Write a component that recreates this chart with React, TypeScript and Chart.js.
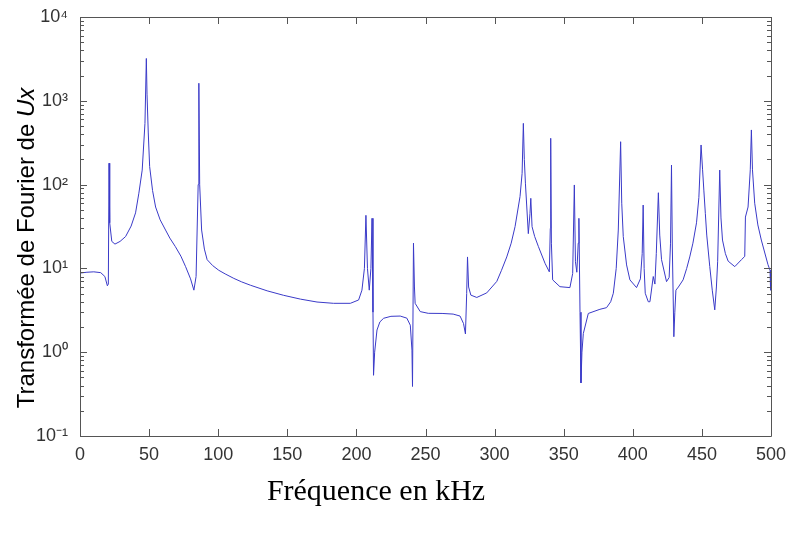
import React, { useEffect, useRef } from "react";
import { Chart, registerables } from "chart.js";

Chart.register(...registerables);

// Frequency (kHz) and Fourier transform magnitude of Ux
const freqKHz = [
  0, 5, 10, 15, 18, 19.8, 20.5, 21.0, 21.5, 23, 25.3, 29, 33, 37, 40.2, 42.6, 45, 47, 48, 48.5, 49.4, 50.4, 52.5,
  54.7, 58, 61.9, 65, 69, 73, 76.4, 80, 82.4, 84, 85.5, 86, 86.6, 88, 90, 92, 96, 100.4, 105, 111.3, 117, 123.3,
  135.4, 147.4, 159.5, 171.5, 183.5, 195.6, 201.6, 204, 205.8, 206.9, 208, 209.3, 210.5, 211.3, 212.0, 212.4,
  213.2, 214.9, 217, 219.7, 225, 231.7, 236.5, 239, 240.2, 240.6, 241.3, 242.0, 242.5, 246.2, 252, 262, 270, 275,
  277.5, 278.9, 279.8, 280.4, 281.2, 282.8, 287.1, 294.3, 301.6, 305, 308.8, 312, 314.8, 318.4, 319.9, 320.8,
  321.5, 322.3, 324.4, 325.6, 326.2, 327.1, 329, 331.7, 336.5, 339.6, 340.3, 340.6, 341.1, 342, 347.3, 354.5,
  356.5, 357.7, 358.5, 359.5, 360.5, 361.0, 361.8, 362.5, 363.2, 364.2, 367.8, 376.2, 381, 384, 385.9, 388, 389.5,
  391.2, 392, 393.1, 395.5, 397.9, 402.7, 405.5, 406.8, 407.5, 408.2, 409, 411.2, 412.4, 414.8, 416, 417, 418.5,
  419.5, 420.8, 424.4, 426.3, 427.3, 428, 428.6, 429.7, 430.4, 431.2, 433, 436.4, 439, 441.2, 443.5, 446.1, 447.8,
  449.4, 450.5, 451.4, 452.5, 453.5, 455.7, 457.5, 459.3, 460.5, 461.4, 462.9, 463.8, 464.9, 467, 469, 473.8,
  478.6, 481, 481.5, 483.4, 485, 485.8, 486.6, 488.2, 490.5, 493, 497.8, 499.3, 499.7, 500,
];
const amplitude = [
  8.8, 9.0, 9.1, 8.9, 8.0, 6.2, 6.5, 180, 35, 21, 19.5, 21, 24, 32, 46, 79, 149, 538, 3200, 1200, 413, 164, 85,
  54, 38, 28.7, 23, 18.2, 14, 10.5, 7.5, 5.5, 8, 100, 1620, 100, 28.7, 17, 12.7, 10.8, 9.5, 8.6, 7.6, 6.9, 6.3,
  5.4, 4.77, 4.3, 3.97, 3.83, 3.83, 4.2, 5.5, 10, 43, 10, 5.5, 10, 39.6, 3, 0.53,
  1.0, 1.84, 2.3, 2.54, 2.68, 2.7, 2.55, 2.1, 1.06, 0.39, 20, 6, 3.83, 3.05, 2.91, 2.9, 2.85, 2.7,
  2.2, 1.65, 5, 13.7, 6, 4.8, 4.5, 5.1, 7.0, 9.5, 13.7, 20, 31.5, 72, 136, 538,
  200, 104, 26, 45, 68.6, 31.5, 24, 18.2, 11.5, 9.1, 30, 357, 20, 7.3, 6.05, 5.9,
  8.7, 99, 12, 9, 20, 39.6, 3, 0.43, 1.0, 1.67, 2.9, 3.25, 3.4, 4.0, 5.05, 10, 28.7,
  325, 60, 24, 11, 7.3, 5.9, 7.5, 15, 57, 10, 5.05, 4.0, 4.0, 8.0, 6.5, 15, 80,
  25, 12.7, 6.95, 7.8, 20, 171, 18, 1.53, 3, 5.5, 6.0, 7.3, 10, 13.7, 20, 35, 70,
  297, 150, 86, 45, 25, 10.5, 5.5, 3.2, 6, 12, 149, 40, 21.8, 15, 12.2, 10.5,
  12.7, 13.9, 41, 54, 150, 449, 150, 60, 33, 21.8, 11.1, 9.5, 5.5, 7,
];

const xMin = 0;
const xMax = 500;
const xStep = 50;
const yTickValues = [0.1, 1, 10, 100, 1000, 10000];
const yTickLabels = ["10\u207B\u00B9", "10\u2070", "10\u00B9", "10\u00B2", "10\u00B3", "10\u2074"];

const xTitle = "Fréquence en kHz";
const yTitleMain = "Transformée de Fourier de ";
const yTitleItalic = "Ux";

const tickFont = "'Liberation Sans Narrow', 'Liberation Sans', Arial, sans-serif";

const framePlugin = {
  id: "matlabFrame",
  afterDraw(chart: any) {
    const { ctx, chartArea, scales } = chart;
    const { left, right, top, bottom } = chartArea;
    const xs = scales.x;
    const ys = scales.y;
    ctx.save();
    ctx.strokeStyle = "#555555";
    ctx.lineWidth = 1;
    ctx.beginPath();
    ctx.rect(Math.round(left) + 0.5, Math.round(top) + 0.5, Math.round(right - left), Math.round(bottom - top));
    ctx.stroke();
    // x ticks, inward, top and bottom
    ctx.beginPath();
    for (const t of xs.ticks) {
      const px = Math.round(xs.getPixelForValue(t.value)) + 0.5;
      ctx.moveTo(px, bottom);
      ctx.lineTo(px, bottom - 7);
      ctx.moveTo(px, top);
      ctx.lineTo(px, top + 7);
    }
    // y ticks (major + minor on log axis), inward, left and right
    for (let d = -1; d <= 4; d++) {
      for (let m = 1; m <= 9; m++) {
        if (d === 4 && m > 1) break;
        const v = m * Math.pow(10, d);
        const py = Math.round(ys.getPixelForValue(v)) + 0.5;
        const len = m === 1 ? 7 : 4;
        ctx.moveTo(left, py);
        ctx.lineTo(left + len, py);
        ctx.moveTo(right, py);
        ctx.lineTo(right - len, py);
      }
    }
    ctx.stroke();

    // x title
    ctx.fillStyle = "#000000";
    ctx.font = "30px 'Liberation Serif', 'Times New Roman', serif";
    ctx.textAlign = "center";
    ctx.textBaseline = "alphabetic";
    ctx.fillText(xTitle, 376, 500);

    // y title with italic Ux
    const normalFont = "24px 'Liberation Sans', Arial, sans-serif";
    const italicFont = "italic 24px 'Liberation Sans', Arial, sans-serif";
    ctx.font = normalFont;
    const w1 = ctx.measureText(yTitleMain).width;
    ctx.font = italicFont;
    const w2 = ctx.measureText(yTitleItalic).width;
    const total = w1 + w2;
    ctx.translate(34, 248);
    ctx.rotate(-Math.PI / 2);
    ctx.textAlign = "left";
    ctx.font = normalFont;
    ctx.fillText(yTitleMain, -total / 2, 0);
    ctx.font = italicFont;
    ctx.fillText(yTitleItalic, -total / 2 + w1, 0);
    ctx.restore();
  },
};

export default function App() {
  const canvasRef = useRef<HTMLCanvasElement | null>(null);

  useEffect(() => {
    if (!canvasRef.current) return;
    const points = freqKHz.map((f, i) => ({ x: f, y: amplitude[i] }));
    const chart = new Chart(canvasRef.current, {
      type: "line",
      data: {
        datasets: [
          {
            label: "Ux",
            data: points,
            borderColor: "#3a3ac8",
            borderWidth: 1,
            pointRadius: 0,
            tension: 0,
            fill: false,
          },
        ],
      },
      options: {
        animation: false,
        responsive: true,
        maintainAspectRatio: false,
        layout: { padding: { top: 17, right: 18, bottom: 0, left: 0 } },
        plugins: {
          legend: { display: false },
          tooltip: { enabled: false },
        },
        scales: {
          x: {
            type: "linear",
            min: xMin,
            max: xMax,
            grid: { display: false, drawTicks: false },
            border: { display: false },
            ticks: {
              stepSize: xStep,
              padding: 8,
              color: "#333333",
              font: { family: tickFont, size: 18 },
              maxRotation: 0,
            },
            afterFit: (s: any) => {
              s.height = 103;
              s.paddingLeft = 0;
              s.paddingRight = 0;
            },
          },
          y: {
            type: "logarithmic",
            min: 0.1,
            max: 10000,
            grid: { display: false, drawTicks: false },
            border: { display: false },
            afterBuildTicks: (s: any) => {
              s.ticks = yTickValues.map((v) => ({ value: v }));
            },
            ticks: {
              padding: 12,
              color: "#333333",
              font: { family: tickFont, size: 18 },
              callback: (value: any) => {
                const idx = yTickValues.findIndex((v) => Math.abs(v - Number(value)) < v * 1e-6);
                return idx >= 0 ? yTickLabels[idx] : "";
              },
            },
            afterFit: (s: any) => {
              s.width = 80;
              s.paddingTop = 0;
              s.paddingBottom = 0;
            },
          },
        },
      },
      plugins: [framePlugin],
    });
    return () => chart.destroy();
  }, []);

  return (
    <div style={{ position: "fixed", left: 0, top: 0, width: 789, height: 539, background: "#ffffff" }}>
      <canvas ref={canvasRef} />
    </div>
  );
}
